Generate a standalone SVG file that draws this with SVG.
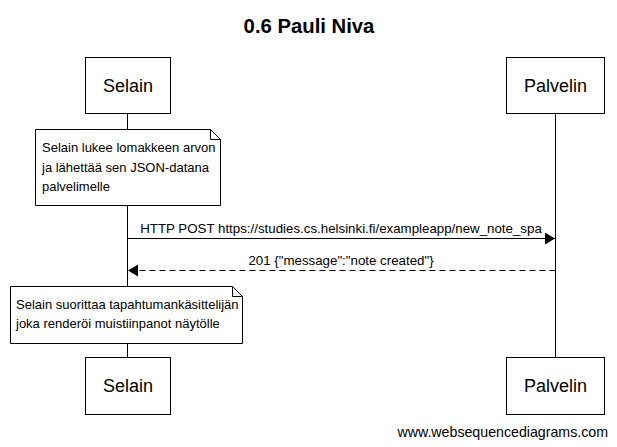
<svg xmlns="http://www.w3.org/2000/svg" width="617" height="447" viewBox="0 0 617 447">
  <defs>
    <style>
      .box { fill: #fff; stroke: #000; stroke-width: 1; }
      .life { stroke: #000; stroke-width: 1; fill: none; }
      .actor { font-family: "Liberation Sans", Arial, sans-serif; font-size: 18px; fill: #000; text-anchor: middle; }
      .t { font-family: "Liberation Sans", Arial, sans-serif; font-size: 13px; fill: #000; }
      .m { font-family: "Liberation Sans", Arial, sans-serif; font-size: 13.3px; fill: #000; text-anchor: middle; }
      .msg { stroke: #000; stroke-width: 1; fill: none; }
      .dash { stroke-dasharray: 6 4; }
    </style>
    <marker id="arrow" viewBox="0 0 10 12" refX="10" refY="6" markerWidth="10" markerHeight="12" markerUnits="userSpaceOnUse" orient="auto">
      <path d="M0,0 L10,6 L0,12 Z" fill="#000"/>
    </marker>
  </defs>
  <rect width="617" height="447" fill="#fff"/>
  <text x="309" y="33" font-family="'Liberation Sans', Arial, sans-serif" font-size="20.3" font-weight="bold" text-anchor="middle">0.6 Pauli Niva</text>

  <g id="lifelines">
    <line class="life" x1="127.5" y1="114" x2="127.5" y2="357"/>
    <line class="life" x1="555.5" y1="114" x2="555.5" y2="357"/>
  </g>

  <g id="selain-top">
    <rect class="box" x="85.5" y="57.5" width="85" height="56"/>
    <text class="actor" x="128" y="92">Selain</text>
  </g>
  <g id="palvelin-top">
    <rect class="box" x="506.5" y="57.5" width="98" height="56"/>
    <text class="actor" x="555.5" y="92">Palvelin</text>
  </g>

  <g id="note1">
    <path class="box" d="M35.5,129.5 H210.5 L220.5,139.5 V205.5 H35.5 Z"/>
    <path class="life" d="M210.5,129.5 V139.5 H220.5"/>
    <text class="t" x="42" y="152">Selain lukee lomakkeen arvon</text>
    <text class="t" x="42" y="171.5">ja lähettää sen JSON-datana</text>
    <text class="t" x="42" y="191">palvelimelle</text>
  </g>

  <g id="connectors">
    <line class="msg" x1="127.5" y1="238.5" x2="555" y2="238.5" marker-end="url(#arrow)"/>
    <text class="m" x="341" y="233">HTTP POST https://studies.cs.helsinki.fi/exampleapp/new_note_spa</text>
    <line class="msg dash" x1="555.5" y1="270.5" x2="128" y2="270.5" marker-end="url(#arrow)"/>
    <text class="m" x="341" y="265">201 {"message":"note created"}</text>
  </g>

  <g id="note2">
    <path class="box" d="M10.5,286.5 H232.5 L242.5,296.5 V343.5 H10.5 Z"/>
    <path class="life" d="M232.5,286.5 V296.5 H242.5"/>
    <text class="t" x="16" y="309">Selain suorittaa tapahtumankäsittelijän</text>
    <text class="t" x="16" y="328">joka renderöi muistiinpanot näytölle</text>
  </g>

  <g id="selain-bottom">
    <rect class="box" x="85.5" y="357.5" width="85" height="57"/>
    <text class="actor" x="128" y="392">Selain</text>
  </g>
  <g id="palvelin-bottom">
    <rect class="box" x="506.5" y="357.5" width="98" height="57"/>
    <text class="actor" x="555.5" y="392">Palvelin</text>
  </g>

  <text x="608" y="437" font-family="'Liberation Sans', Arial, sans-serif" font-size="14.2" text-anchor="end">www.websequencediagrams.com</text>
</svg>
